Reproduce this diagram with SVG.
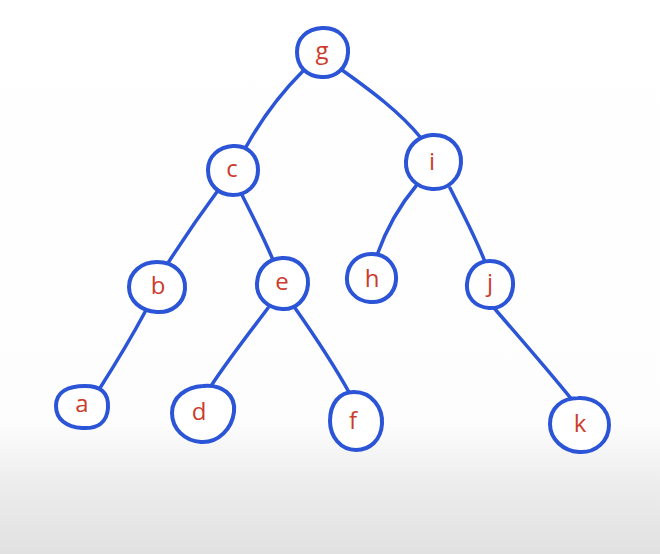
<svg xmlns="http://www.w3.org/2000/svg" width="660" height="554" viewBox="0 0 660 554">
  <defs>
    <linearGradient id="bg" x1="0" y1="0" x2="0" y2="1">
      <stop offset="0" stop-color="#ffffff"/>
      <stop offset="0.76" stop-color="#fdfdfd"/>
      <stop offset="0.88" stop-color="#ececec"/>
      <stop offset="1" stop-color="#e1e1e1"/>
    </linearGradient>
    <style>
      .ring { fill: #ffffff; stroke: #2b55d6; stroke-width: 4; stroke-linejoin: round; }
      .edge { fill: none; stroke: #2b55d6; stroke-width: 3.5; stroke-linecap: round; }
      .lbl { font-family: "Open Sans", "Liberation Sans", sans-serif; font-size: 24px; fill: #cc3b2c; text-anchor: middle; }
    </style>
  </defs>

  <rect width="660" height="554" fill="url(#bg)"/>

  <!-- tree edges -->
  <g id="edges">
    <path class="edge" d="M303 71 C282 92 262 118 246 147"/>
    <path class="edge" d="M342 70 C370 90 400 112 421 138"/>
    <path class="edge" d="M219 189 C202 212 184 238 168 263"/>
    <path class="edge" d="M241 193 C252 215 264 238 273 260"/>
    <path class="edge" d="M416 186 C400 205 386 230 377 255"/>
    <path class="edge" d="M450 188 C462 212 476 238 485 262"/>
    <path class="edge" d="M145 312 C130 340 114 366 100 388"/>
    <path class="edge" d="M268 308 C250 332 228 360 211 386"/>
    <path class="edge" d="M295 308 C314 335 334 365 350 394"/>
    <path class="edge" d="M494 308 C520 338 548 370 573 401"/>
  </g>

  <!-- nodes -->
  <g id="node-g">
    <path class="ring" d="M322 28 C340 27 349 40 348 53 C347 68 336 78 321 77 C306 76 297 66 297 52 C297 38 307 29 322 28 Z"/>
    <text class="lbl" x="322" y="59">g</text>
  </g>
  <g id="node-c">
    <path class="ring" d="M233 146 C249 145 258 157 258 170 C258 185 247 195 233 195 C218 195 208 184 208 170 C208 156 219 147 233 146 Z"/>
    <text class="lbl" x="232" y="177">c</text>
  </g>
  <g id="node-i">
    <path class="ring" d="M432 135 C450 134 462 147 461 163 C460 179 448 190 432 189 C416 188 405 176 406 161 C407 146 418 136 432 135 Z"/>
    <text class="lbl" x="432" y="170">i</text>
  </g>
  <g id="node-b">
    <path class="ring" d="M157 262 C175 262 186 274 185 289 C184 303 172 313 157 312 C141 311 129 301 129 287 C129 272 142 262 157 262 Z"/>
    <text class="lbl" x="158" y="294">b</text>
  </g>
  <g id="node-e">
    <path class="ring" d="M282 258 C298 257 309 270 308 284 C307 299 296 310 282 309 C267 308 256 297 257 283 C258 268 268 259 282 258 Z"/>
    <text class="lbl" x="282" y="290">e</text>
  </g>
  <g id="node-h">
    <path class="ring" d="M372 254 C387 254 397 266 396 280 C395 294 384 303 370 302 C356 301 346 290 347 277 C348 263 358 254 372 254 Z"/>
    <text class="lbl" x="372" y="287">h</text>
  </g>
  <g id="node-j">
    <path class="ring" d="M490 261 C505 261 514 272 513 286 C512 300 502 309 489 308 C475 307 466 297 467 284 C468 270 477 261 490 261 Z"/>
    <text class="lbl" x="490" y="291">j</text>
  </g>
  <g id="node-a">
    <path class="ring" d="M85 386 C100 386 109 392 108 408 C107 422 98 429 82 428 C66 427 56 419 56 406 C56 392 68 386 85 386 Z"/>
    <text class="lbl" x="82" y="412">a</text>
  </g>
  <g id="node-d">
    <path class="ring" d="M203 386 C222 384 236 395 234 412 C232 428 219 443 201 442 C185 441 172 429 172 413 C172 397 186 387 203 386 Z"/>
    <text class="lbl" x="199" y="420">d</text>
  </g>
  <g id="node-f">
    <path class="ring" d="M354 392 C372 392 383 408 382 424 C381 440 370 450 356 450 C341 450 330 437 330 421 C330 404 339 392 354 392 Z"/>
    <text class="lbl" x="353" y="429">f</text>
  </g>
  <g id="node-k">
    <path class="ring" d="M578 398 C596 397 609 409 609 425 C609 441 596 453 579 452 C563 451 550 439 550 424 C550 408 562 398 578 398 Z"/>
    <text class="lbl" x="580" y="432">k</text>
  </g>
</svg>
